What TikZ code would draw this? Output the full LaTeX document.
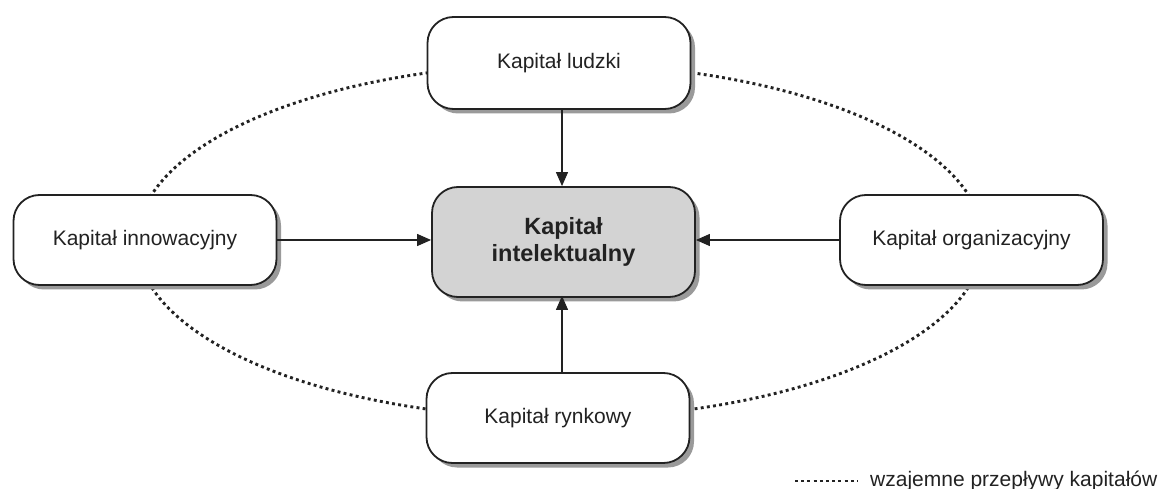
\documentclass[tikz,border=0pt]{standalone}
\usepackage{fontspec}
\setmainfont{Liberation Sans}
\usetikzlibrary{shadows,arrows.meta}
\definecolor{ink}{HTML}{222222}
\definecolor{shadowgray}{HTML}{9A9A9A}
\definecolor{centerfill}{HTML}{D3D3D3}
\begin{document}
\begin{tikzpicture}[x=1pt,y=-1pt,
  capbox/.style={draw=ink, line width=1.8pt, fill=white, rounded corners=26pt,
    inner sep=0pt, minimum width=263pt, minimum height=90pt, text=ink,
    font=\fontsize{21}{25}\selectfont,
    drop shadow={shadow xshift=4.5pt, shadow yshift=-4.5pt, fill=shadowgray, opacity=1}},
  mainbox/.style={capbox, fill=centerfill, minimum height=110pt, align=center,
    font=\fontsize{23.5}{27}\selectfont\bfseries},
  flow/.style={draw=ink, line width=1.2pt, -{Triangle[length=14pt,width=12pt]}},
  dots/.style={draw=ink, line width=2.9pt, dash pattern=on 2.9pt off 3.3pt}
]
\useasboundingbox (0,0) rectangle (1160,489);
\draw[dots] (560,241) ellipse [x radius=423, y radius=177];
\node[capbox, minimum height=92pt] (hum) at (559,63) {Kapitał ludzki};
\node[mainbox] (ic) at (563.5,242) {Kapitał\\intelektualny};
\node[capbox] (inn) at (145,240) {Kapitał innowacyjny};
\node[capbox] (org) at (971.5,240) {Kapitał organizacyjny};
\node[capbox] (mkt) at (558,418) {Kapitał rynkowy};
\draw[flow] ([xshift=3pt]hum.south) -- ([xshift=3pt]hum.south |- ic.north);
\draw[flow] ([xshift=4pt]mkt.north) -- ([xshift=4pt,yshift=2pt]mkt.north |- ic.south);
\draw[flow] (inn.east) -- (inn.east -| ic.west);
\draw[flow] (org.west) -- (org.west -| ic.east);
\coordinate (la) at (795,481);
\coordinate (lb) at (858,481);
\draw[dots] (la) -- (lb);
\node[anchor=base west, inner sep=0pt, text=ink, font=\fontsize{21}{25}\selectfont] (leg) at (870,486) {wzajemne przepływy kapitałów};
\end{tikzpicture}
\end{document}
